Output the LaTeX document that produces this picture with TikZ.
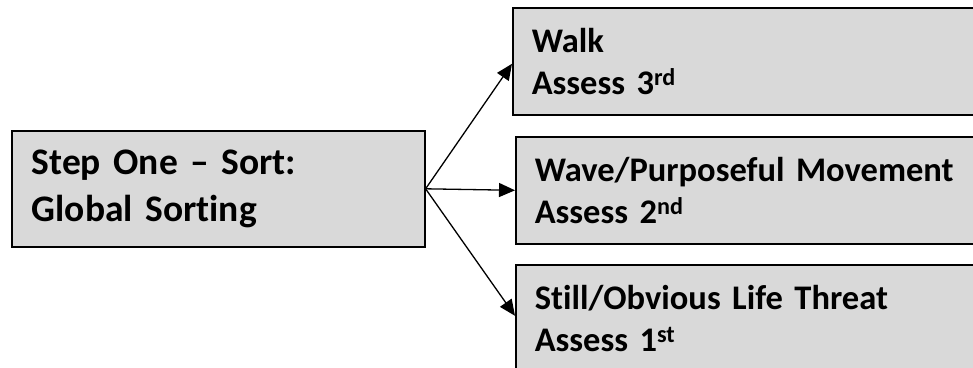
\documentclass[tikz,border=0pt]{standalone}
\usepackage{fontspec}
\setmainfont{Carlito}[Ligatures=NoCommon]
\usetikzlibrary{arrows.meta}
\definecolor{boxgray}{HTML}{D9D9D9}
\newcommand\boxfont{\fontsize{34.5}{42}\selectfont\bfseries}
\newcommand\stepfont{\fontsize{37.5}{47}\selectfont\bfseries}

\begin{document}
\begin{tikzpicture}[x=1pt,y=-1pt,
    sortbox/.style={draw, line width=1.6pt, fill=boxgray, anchor=north west,
      align=left, inner xsep=19pt, font=\boxfont,
      minimum height=107pt, text width=440pt, minimum width=478pt},
    leftbox/.style={sortbox, font=\stepfont,
      minimum height=116pt, text width=373pt, minimum width=413pt},
    flow/.style={line width=1.3pt, -{Triangle[length=16pt,width=14pt]}}]
      \useasboundingbox (0,0) rectangle (973,367);
      \clip (0,0) rectangle (973,367);
      \node[leftbox] (sort) at (11,130) {Step One -- Sort:\\Global Sorting};
      \node[sortbox] (walk) at (512,7) {Walk\\Assess 3\textsuperscript{rd}};
      \node[sortbox] (wave) at (515,136) {Wave/Purposeful Movement\\Assess 2\textsuperscript{nd}};
      \node[sortbox] (still) at (515,264) {Still/Obvious Life Threat\\Assess 1\textsuperscript{st}};
      \draw[flow] (sort.east) -- ([yshift=-2.5pt]walk.west);
      \draw[flow] (sort.east) -- (wave.west);
      \draw[flow] (sort.east) -- ([yshift=2.5pt]still.west);
    \end{tikzpicture}
\end{document}
